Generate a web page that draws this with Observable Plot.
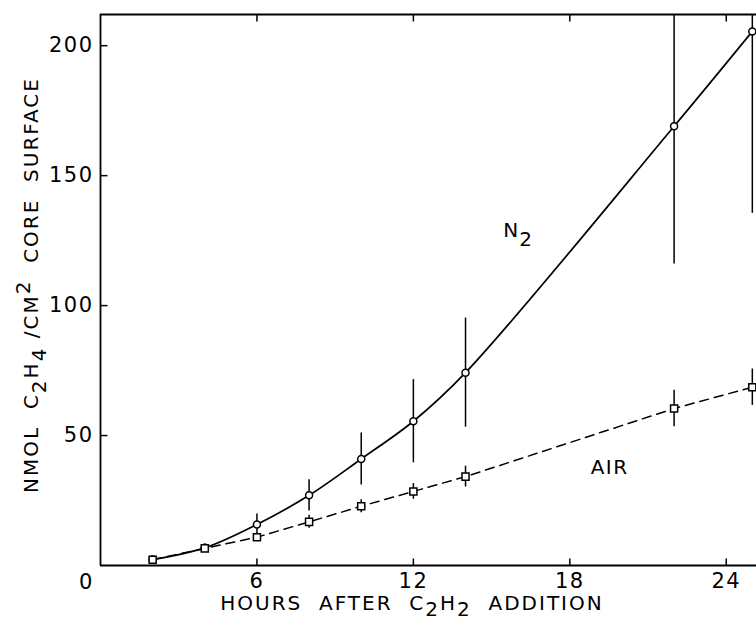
<!DOCTYPE html>
<html><head><meta charset="utf-8">
<script src="https://cdn.jsdelivr.net/npm/d3@7"></script>
<script src="https://cdn.jsdelivr.net/npm/@observablehq/plot@0.6"></script>
<style>html,body{margin:0;padding:0;background:#fff}</style>
</head><body><div id="chart"></div>
<script>
// Data
const hours  = [2, 4, 6, 8, 10, 12, 14, 22, 25];
const n2     = [2.3, 6.8, 15.8, 27, 41, 55.5, 74.2, 169, 205.5];
const n2Err  = [0, 1.5, 4, 6, 10, 16, 21, 53, 70];
const air    = [2.2, 6.6, 10.9, 16.8, 22.8, 28.5, 34.2, 60.4, 68.6];
const airErr = [0, 1, 0, 2.5, 2.5, 3, 4, 7, 7];
const xTicks = [6, 12, 18, 24];
const yTicks = [50, 100, 150, 200];
const originLabel = ["0"];

const n2Rows  = hours.map((h, i) => ({h, v: n2[i], e: n2Err[i]}));
const airRows = hours.map((h, i) => ({h, v: air[i], e: airErr[i]}));

const tickUp    = {draw(c){ c.moveTo(0,0); c.lineTo(0,-7); }};
const tickDown  = {draw(c){ c.moveTo(0,0); c.lineTo(0,7); }};
const tickRight = {draw(c){ c.moveTo(0,0); c.lineTo(7,0); }};

const FONT = "DejaVu Sans";
const yMax = 212;

const chart = Plot.plot({
  width: 756,
  height: 623,
  marginLeft: 100,
  marginRight: 0,
  marginTop: 14,
  marginBottom: 58,
  style: {fontFamily: FONT, fontSize: "21px", letterSpacing: "1.5px", background: "#fff", color: "#000"},
  x: {domain: [0, 25.16], ticks: xTicks, tickSize: 0, tickPadding: 8, label: null, tickFormat: d => d},
  y: {domain: [0, yMax], ticks: yTicks, tickSize: 0, tickPadding: 7, label: null, tickFormat: d => d},
  marks: [
    // frame
    Plot.ruleY([0], {stroke: "#000", strokeWidth: 1.8}),
    Plot.ruleY([yMax], {stroke: "#000", strokeWidth: 1.8}),
    Plot.ruleX([0], {stroke: "#000", strokeWidth: 1.8}),
    // inward ticks
    Plot.dot(xTicks, {x: d => d, y: 0, symbol: tickUp, fill: "none", stroke: "#000", strokeWidth: 1.5}),
    Plot.dot(xTicks, {x: d => d, y: yMax, symbol: tickDown, fill: "none", stroke: "#000", strokeWidth: 1.5}),
    Plot.dot(yTicks, {x: 0, y: d => d, symbol: tickRight, fill: "none", stroke: "#000", strokeWidth: 1.5}),
    // origin label
    Plot.text(originLabel, {x: 0, y: 0, text: d => d, dx: -14, dy: 17, fontSize: 21}),
    // error bars
    Plot.ruleX(n2Rows.filter(d => d.e > 0), {x: "h", y1: d => d.v - d.e, y2: d => d.v + d.e, stroke: "#000", strokeWidth: 1.5, clip: true}),
    Plot.ruleX(airRows.filter(d => d.e > 0), {x: "h", y1: d => d.v - d.e, y2: d => d.v + d.e, stroke: "#000", strokeWidth: 1.5, clip: true}),
    // lines
    Plot.line(n2Rows, {x: "h", y: "v", curve: "catmull-rom", stroke: "#000", strokeWidth: 1.7}),
    Plot.line(airRows, {x: "h", y: "v", stroke: "#000", strokeWidth: 1.5, strokeDasharray: "9,6"}),
    // markers
    Plot.dot(n2Rows, {x: "h", y: "v", r: 3.5, fill: "#fff", stroke: "#000", strokeWidth: 1.5}),
    Plot.dot(airRows, {x: "h", y: "v", r: 4, symbol: "square", fill: "#fff", stroke: "#000", strokeWidth: 1.5}),
    // series labels
    Plot.text(["N"], {x: 15.45, y: 129, text: d => d, textAnchor: "start", fontSize: 20, letterSpacing: "0px"}),
    Plot.text(["2"], {x: 15.45, y: 129, text: d => d, textAnchor: "start", dx: 16, dy: 9, fontSize: 20, letterSpacing: "0px"}),
    Plot.text(["AIR"], {x: 18.8, y: 37.7, text: d => d, textAnchor: "start", fontSize: 20, letterSpacing: "2px"})
  ]
});

document.getElementById("chart").appendChild(chart);

// Axis titles with sub/superscripts
const svg = d3.select(chart);
function addTitle(g, parts, shiftPx) {
  let shift = 0;
  parts.forEach(([t, kind]) => {
    const target = kind === "sub" ? shiftPx : kind === "sup" ? -shiftPx : 0;
    g.append("tspan").attr("dy", target - shift).text(t);
    shift = target;
  });
}
const xt = svg.append("text")
  .attr("x", 412).attr("y", 610)
  .attr("text-anchor", "middle")
  .attr("font-family", FONT).attr("font-size", 20).attr("letter-spacing", "2px")
  .style("white-space", "pre");
addTitle(xt, [["HOURS  AFTER  C", ""], ["2", "sub"], ["H", ""], ["2", "sub"], ["  ADDITION", ""]], 6);

const yt = svg.append("text")
  .attr("transform", "translate(38,285) rotate(-90)")
  .attr("text-anchor", "middle")
  .attr("font-family", FONT).attr("font-size", 20).attr("letter-spacing", "2px")
  .style("white-space", "pre");
addTitle(yt, [["NMOL  C", ""], ["2", "sub"], ["H", ""], ["4", "sub"], [" /CM", ""], ["2", "sup"], ["  CORE  SURFACE", ""]], 8);
</script>
</body></html>
